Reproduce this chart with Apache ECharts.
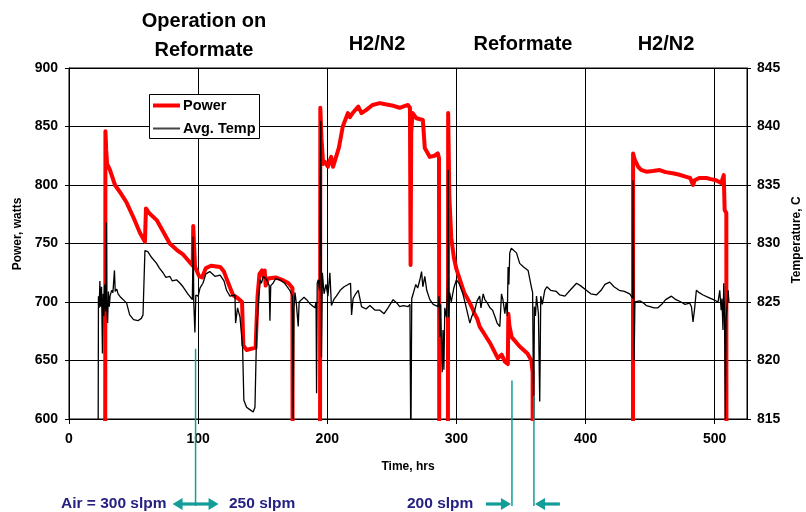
<!DOCTYPE html>
<html>
<head>
<meta charset="utf-8">
<script src="https://cdn.jsdelivr.net/npm/echarts@6/dist/echarts.min.js"></script>
<style>
  html, body { margin: 0; padding: 0; background: #ffffff; }
  #chart { width: 806px; height: 512px; }
</style>
</head>
<body>
<div id="chart"></div>
<script>
// Fuel cell stack run: stack power (left axis) and average temperature (right axis) over time.
// A power of 0 marks a shutdown (drawn below the visible range).

const powerHours = [
  27.7, 28.2, 28.8, 29.5, 31.7, 33, 35.6, 40, 44.6, 50, 55, 58.8, 59.6, 62, 67.9, 72, 78, 84, 88,
  93.5, 95.8, 96.2, 97, 97.6, 100.8, 103, 106, 110, 117, 120, 123, 127, 131, 134, 135, 137.5, 141,
  144.5, 146, 147.5, 149.5, 150.5, 151.5, 152.3, 154, 160, 165, 170, 173, 173.6,
  194, 194.6, 195.5, 196.8, 198, 200.5, 202, 203, 204.5, 206, 209, 212, 216, 217.5, 220, 224, 226.5,
  230, 235, 240.7, 245, 250, 256, 262.4, 264, 264.5, 265, 266, 269, 274, 275.5, 279.4, 283, 285.6,
  286.5, 287.2,
  293, 293.6, 294.5, 296, 298, 300, 303, 306, 310, 313, 314, 316, 318, 322, 326, 332, 335, 337.5,
  339.8, 340.2, 341, 342.8, 349, 355, 358, 359, 359.4,
  436.5, 436.8, 438, 440.7, 443, 447, 452, 457.4, 462, 467.5, 472, 478, 481, 483.2, 484.5, 488,
  493.5, 497, 501, 505, 507, 507.7, 509, 509.3
];
const powerWatts = [
  0, 846, 830, 818, 813, 812, 800, 793, 785, 772, 759, 751.5, 780, 776, 770, 762, 750, 744, 741,
  734, 731, 765, 745, 730, 722, 721, 729, 731, 730, 726, 717, 706, 703, 700, 663, 659, 660,
  661, 705, 724, 727, 722, 727, 714, 720, 721, 719, 716, 712, 0,
  0, 866, 840, 818, 820, 815.6, 821, 824, 815.6, 817, 832, 850, 861.5, 858, 862, 867, 861.5,
  864, 868.4, 870, 869, 868, 866, 868.4, 866, 731.6, 845, 861.5, 857, 855.6, 831.6, 824, 825, 827,
  823, 0,
  0, 861.5, 790, 755, 738, 728, 718, 708, 700, 693, 690, 686, 679, 672, 665, 652, 655, 649,
  647, 690, 680, 670, 662, 656, 650, 640, 0,
  0, 827, 822, 815.6, 813, 811.4, 812, 812.8, 811, 810, 809, 807, 806, 800, 804, 806,
  806, 805, 804, 801.7, 808.5, 778.6, 776, 0
];

const tempHours = [
  22.5, 22.8, 23.4, 23.9, 24.5, 25.2, 25.9, 26.4, 27, 27.6, 28.3, 29, 29.3, 29.9, 30.5, 31.2, 31.8,
  33, 34, 35.2, 35.8, 37, 38, 40, 42, 44.6, 47, 50, 53.4, 56, 57.3, 58.8, 61, 64, 67.8, 70, 72.8,
  75, 78, 80, 83.2, 86, 88.3, 92, 95.5, 96.2, 96.6, 97.5, 98.2, 100, 101.5, 103.7, 106, 109, 113,
  117, 120, 122, 124.6, 128.5, 129, 130.5, 132.4, 134.4, 135.4, 137.5, 140, 142.6, 144, 145.3, 147,
  148, 149, 150.5, 153, 155, 155.6, 156.2, 158, 160, 163.3, 167, 171, 173, 173.6, 174.2, 175, 176,
  177.5, 178.2, 180, 182, 184, 187, 190.4, 191.3, 191.7, 192.2, 193, 194, 195, 195.5, 196.2, 197.5,
  199, 200.5, 202, 203.2, 205, 207, 210, 213, 216.2, 218, 218.8, 220, 222, 224, 226.5, 230, 233,
  237, 240.7, 244, 247, 251, 254, 256, 259, 262.6, 264, 264.7, 265.4, 266.5, 268.5, 270, 271.7,
  273, 274, 275.5, 277, 279.4, 282, 285.8, 286.6, 287.2, 287.8, 288.4, 289, 289.6, 290.3, 291,
  292.3, 293.2, 293.6, 294, 294.8, 296, 298, 300, 302, 305, 307, 310.4, 312, 314.2, 316, 318, 319,
  320.7, 322, 324, 326, 328, 330, 331.5, 333.6, 334.9, 336, 337.5, 338.5, 339.4, 340, 340.6,
  341.3, 342.5, 344, 346.5, 349, 352, 355.5, 358, 359, 359.8, 360.4, 361.2, 362, 363.5, 364.5,
  365.3, 366.5, 368.4, 370, 373, 377.4, 380, 384, 388, 393, 396, 400.6, 404, 408.4, 412, 415,
  418.7, 422, 426, 430, 434.2, 436.5, 436.8, 437.3, 437.6, 438.2, 439.4, 442, 445, 447, 450, 453,
  456, 459, 462, 466.5, 470, 474, 477, 480.6, 482, 483.2, 484.5, 485.8, 488, 491, 495, 499, 502.6,
  503.9, 505, 505.6, 506.4, 507, 507.6, 508.2, 508.8, 509.5, 510.4, 511
];
const tempC = [
  810, 825.5, 824.5, 826.8, 824.6, 826.3, 820.6, 825.7, 823.8, 826.5, 824.2, 831.8, 824.5, 823.2,
  825.9, 824.6, 825.5, 826, 825.8, 827.7, 825.9, 826.1, 825.7, 825.4, 825.2, 824.9, 823.9, 823.5,
  823.4, 823.6, 823.9, 829.4, 829.3, 828.8, 828.3, 827.9, 827.5, 827.1, 827.2, 826.8, 826.9, 826.6,
  826.3, 825.7, 825.2, 830.6, 825.0, 822.4, 825.6, 825.5, 826.2, 826.6, 827.4, 827.6, 827.2, 827.3,
  826.8, 826, 825.5, 825.6, 823.2, 824.5, 823.7, 821.2, 816.6, 816, 815.8, 815.6, 816, 822.6,
  825.5, 826.9, 826.6, 827.2, 826.9, 826.4, 823.4, 826.4, 826.6, 827, 826.9, 826.6, 826, 825.5,
  815, 824.5, 825.8, 824.9, 822.9, 825, 825.2, 825.4, 825.2, 824.8, 824.5, 825, 817.2, 826.6,
  826.9, 826, 840.5, 820.3, 827.5, 825.7, 826.5, 825.5, 827.5, 824.7, 825.2, 825.5, 826, 826.3,
  826.5, 826.6, 823.9, 825.3, 825.7, 826, 824.6, 824.4, 824.7, 824.3, 824.3, 824.0, 824.5, 825.2,
  824.9, 824.6, 824.7, 824.6, 824.8, 812, 825.3, 825.7, 826.5, 826.2, 826.9, 827.6, 826.3, 827.2,
  826, 825.2, 824.8, 824.6, 825.5, 822, 824.8, 821.5, 819, 822.6, 819.2, 824.5, 823.7, 826.5,
  836.3, 823.7, 825.8, 825, 826.2, 826.9, 826.6, 825.7, 824.8, 823.2, 823.8, 824.3, 825.1, 825.5,
  824.5, 825.7, 825.2, 824.9, 824.5, 824.3, 823.7, 823.2, 822.9, 825.7, 825.2, 824.0, 825, 823.8,
  828, 826.5, 829.2, 829.6, 829.5, 829.2, 828.3, 828, 827.7, 826.3, 825.8, 815, 824.6, 823.8,
  825.5, 824, 816.5, 825.5, 824.8, 826, 826.3, 826, 825.9, 825.6, 825.5, 826, 826.6, 826.4, 826,
  825.7, 825.6, 826, 826.5, 826.7, 826.3, 826, 825.9, 825.7, 825.3, 835.4, 826, 820, 825, 824.9,
  825.1, 824.9, 824.7, 824.6, 824.5, 824.5, 824.8, 825.2, 825.5, 825.2, 825, 824.8, 824.9, 824.6,
  823.3, 824.5, 826, 825.8, 825.6, 825.4, 825.2, 825, 826, 824.3, 825.3, 822.6, 826.6, 824, 815,
  823.5, 824.5, 826, 825
];

// Operating phases written above the plot, and air-flow steps written below it
const phaseNames = ['Operation on\nReformate', 'H2/N2', 'Reformate', 'H2/N2'];
const seriesNames = ['Power', 'Avg. Temp'];
const airLabels = ['Air = 300 slpm', '250 slpm', '200 slpm'];
const airChangeHours = [98, 343, 360];

const FONT = '"Liberation Sans", Arial, Helvetica, sans-serif';
const TEAL = '#129d99';
const NAVY = '#262080';
const RED = '#ff0000';

const powerData = powerHours.map((h, i) => [h, powerWatts[i]]);
const tempData = tempHours.map((h, i) => [h, tempC[i]]);

const chart = echarts.init(document.getElementById('chart'), null, { renderer: 'canvas' });

const tickLabel = { color: '#000', fontFamily: FONT, fontWeight: 'bold', fontSize: 14 };
const blackLine = { show: true, lineStyle: { color: '#000', width: 1 } };

chart.setOption({
  animation: false,
  backgroundColor: '#ffffff',
  grid: {
    left: 69, right: 59, top: 68, bottom: 93,
    show: true, borderColor: '#000', borderWidth: 1, backgroundColor: 'transparent'
  },
  xAxis: {
    type: 'value', min: 0, max: 525, interval: 100,
    axisLine: blackLine,
    axisTick: { show: true, length: 5, lineStyle: { color: '#000' } },
    axisLabel: Object.assign({ margin: 13, showMaxLabel: false }, tickLabel),
    splitLine: { show: true, lineStyle: { color: '#000', width: 1 } }
  },
  yAxis: [
    {
      type: 'value', min: 600, max: 900, interval: 50, position: 'left',
      axisLine: blackLine,
      axisTick: { show: true, length: 4, lineStyle: { color: '#000' } },
      axisLabel: Object.assign({ margin: 11 }, tickLabel),
      splitLine: { show: true, lineStyle: { color: '#000', width: 1 } }
    },
    {
      type: 'value', min: 815, max: 845, interval: 5, position: 'right',
      axisLine: blackLine,
      axisTick: { show: true, length: 4, lineStyle: { color: '#000' } },
      axisLabel: Object.assign({ margin: 10 }, tickLabel),
      splitLine: { show: false }
    }
  ],
  series: [
    {
      name: seriesNames[0], type: 'line', yAxisIndex: 0,
      data: powerData, showSymbol: false, symbol: 'none', clip: true,
      color: RED,
      lineStyle: { color: RED, width: 4, join: 'round', cap: 'round' },
      z: 2
    },
    {
      name: seriesNames[1], type: 'line', yAxisIndex: 1,
      data: tempData, showSymbol: false, symbol: 'none', clip: true,
      color: '#000',
      lineStyle: { color: '#000', width: 1.3 },
      z: 3
    }
  ]
});

// Legend box, phase headings, axis titles and air-flow markers
function buildGraphics() {
  const g = [];
  const text = (str, x, y, opts) => g.push(Object.assign({
    type: 'text', x: x, y: y, z: 50,
    style: Object.assign({
      text: str, fill: '#000', font: 'bold 20px ' + FONT,
      align: 'center', verticalAlign: 'middle'
    }, opts || {})
  }));

  // Legend
  g.push({ type: 'rect', z: 45, shape: { x: 149.5, y: 94.5, width: 110, height: 44 },
    style: { fill: '#fff', stroke: '#000', lineWidth: 1 } });
  g.push({ type: 'line', z: 46, shape: { x1: 153, y1: 105.5, x2: 180, y2: 105.5 },
    style: { stroke: RED, lineWidth: 4 } });
  g.push({ type: 'line', z: 46, shape: { x1: 153, y1: 128.5, x2: 180, y2: 128.5 },
    style: { stroke: '#444', lineWidth: 2 } });
  text(seriesNames[0], 183, 106, { font: 'bold 14.5px ' + FONT, align: 'left' });
  text(seriesNames[1], 183, 129, { font: 'bold 14.5px ' + FONT, align: 'left' });

  // Phase headings
  text(phaseNames[0], 204, 35.5, { lineHeight: 29 });
  text(phaseNames[1], 377, 44);
  text(phaseNames[2], 523, 44);
  text(phaseNames[3], 666, 44);

  // Axis titles
  g.push({ type: 'text', x: 18, y: 234, rotation: Math.PI / 2, z: 50,
    style: { text: 'Power, watts', fill: '#000', font: 'bold 12px ' + FONT, align: 'center', verticalAlign: 'middle' } });
  g.push({ type: 'text', x: 797, y: 240, rotation: Math.PI / 2, z: 50,
    style: { text: 'Temperature, C', fill: '#000', font: 'bold 12px ' + FONT, align: 'center', verticalAlign: 'middle' } });
  text('Time, hrs', 408, 467, { font: 'bold 12px ' + FONT });

  // Air-flow change markers
  const lineTops = [660, 633, 620];
  const baseY = 504;
  const xs = airChangeHours.map(h => chart.convertToPixel({ xAxisIndex: 0 }, h));
  xs.forEach((x, i) => {
    const top = chart.convertToPixel({ yAxisIndex: 0 }, lineTops[i]);
    g.push({ type: 'line', z: 40, shape: { x1: x, y1: top, x2: x, y2: baseY + 2 },
      style: { stroke: TEAL, lineWidth: 1.5 } });
  });
  const shaft = (x1, x2) => g.push({ type: 'line', z: 41,
    shape: { x1: x1, y1: baseY, x2: x2, y2: baseY }, style: { stroke: TEAL, lineWidth: 3.2 } });
  const head = (tip, dir) => g.push({ type: 'polygon', z: 41,
    shape: { points: [[tip, baseY], [tip - dir * 10, baseY - 6], [tip - dir * 10, baseY + 6]] },
    style: { fill: TEAL } });

  // 300 -> 250 slpm: double-headed arrow around the first marker
  shaft(xs[0] - 15, xs[0] + 15);
  head(xs[0] - 23, -1);
  head(xs[0] + 23, 1);
  // 200 slpm window bounded by the next two markers
  shaft(xs[1] - 26, xs[1] - 8);
  head(xs[1] - 1, 1);
  shaft(xs[2] + 8, xs[2] + 26);
  head(xs[2] + 1, -1);

  const airFont = 'bold 15.5px ' + FONT;
  text(airLabels[0], 61, baseY, { fill: NAVY, font: airFont, align: 'left' });
  text(airLabels[1], 229, baseY, { fill: NAVY, font: airFont, align: 'left' });
  text(airLabels[2], 407, baseY, { fill: NAVY, font: airFont, align: 'left' });
  return g;
}

chart.setOption({ graphic: buildGraphics() });
</script>
</body>
</html>
